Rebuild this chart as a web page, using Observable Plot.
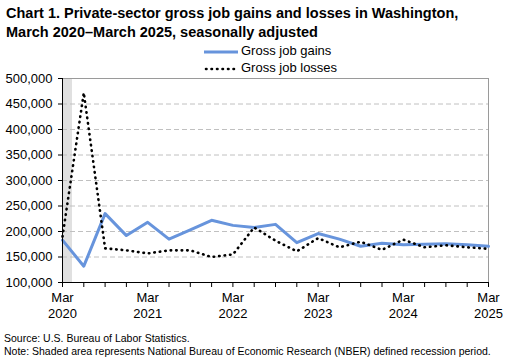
<!DOCTYPE html>
<html><head><meta charset="utf-8">
<script src="https://cdn.jsdelivr.net/npm/d3@7"></script>
<script src="https://cdn.jsdelivr.net/npm/@observablehq/plot@0.6"></script>
<style>
body{margin:0;font-family:"Liberation Sans",Arial,sans-serif;background:#fff;}
#wrap{position:relative;width:512px;height:364px;overflow:hidden;}
#title{position:absolute;left:6px;top:4px;font-weight:bold;font-size:14.5px;line-height:19px;color:#000;}
.leg{position:absolute;font-size:13px;color:#000;}
.foot{position:absolute;left:4px;font-size:10.5px;color:#000;white-space:nowrap;}
#chart{position:absolute;left:0;top:0;}
</style></head>
<body>
<div id="wrap">
<div id="chart"></div>
<div id="title">Chart 1. Private-sector gross job gains and losses in Washington,<br>March 2020–March 2025, seasonally adjusted</div>
<div class="leg" style="left:204px;top:43px;"><svg width="36" height="10" style="vertical-align:middle"><line x1="0" x2="34" y1="5" y2="5" stroke="#6794dc" stroke-width="3"/></svg><span style="margin-left:1px">Gross job gains</span></div>
<div class="leg" style="left:204px;top:60px;"><svg width="36" height="10" style="vertical-align:middle"><line x1="2" x2="34" y1="5" y2="5" stroke="#000" stroke-width="2.6" stroke-linecap="round" stroke-dasharray="0.5,5"/></svg><span style="margin-left:1px">Gross job losses</span></div>
<div class="foot" style="top:332px;">Source: U.S. Bureau of Labor Statistics.</div>
<div class="foot" style="top:345px;">Note: Shaded area represents National Bureau of Economic Research (NBER) defined recession period.</div>
</div>
<script>
const quarters = ["Mar 2020","Jun 2020","Sep 2020","Dec 2020","Mar 2021","Jun 2021","Sep 2021","Dec 2021","Mar 2022","Jun 2022","Sep 2022","Dec 2022","Mar 2023","Jun 2023","Sep 2023","Dec 2023","Mar 2024","Jun 2024","Sep 2024","Dec 2024","Mar 2025"];
const gains = [183000,132000,235000,192000,218000,185000,203000,222000,212000,208000,214000,178000,196000,185000,171000,177000,174000,175000,176000,174000,171000];
const losses = [190000,472000,167000,163000,157000,163000,163000,150000,155000,208000,182000,161000,187000,169000,180000,164000,184000,169000,173000,169000,166000];
const yTicks = [100000,150000,200000,250000,300000,350000,400000,450000,500000];
const recession = [{start: 0, end: 0.47}];

const idx = quarters.map((q,i)=>i);
const gainsData = quarters.map((q,i)=>({i, v: gains[i]}));
const lossesData = quarters.map((q,i)=>({i, v: losses[i]}));
const labelTicks = idx.filter(i => quarters[i].startsWith("Mar"));

const chart = Plot.plot({
  width: 512, height: 364,
  marginLeft: 62, marginRight: 24, marginTop: 78, marginBottom: 82,
  style: {fontFamily: '"Liberation Sans", Arial, sans-serif', fontSize: "13px", background: "transparent"},
  x: {type: "linear", domain: [0, quarters.length - 1]},
  y: {domain: [100000, 500000]},
  marks: [
    Plot.rectX(recession, {x1: "start", x2: "end", y1: 100000, y2: 500000, fill: "#e0e0e0"}),
    Plot.ruleY(yTicks.slice(1, -1), {stroke: "#c0c0c0", strokeDasharray: "5,3", strokeWidth: 1}),
    Plot.ruleY([yTicks[yTicks.length-1]], {stroke: "#9a9a9a"}),
    Plot.ruleX([quarters.length - 1], {stroke: "#9a9a9a"}),
    Plot.line(gainsData, {x: "i", y: "v", stroke: "#6794dc", strokeWidth: 3}),
    Plot.line(lossesData, {x: "i", y: "v", stroke: "#000", strokeWidth: 2.6, strokeLinecap: "round", strokeDasharray: "0.5,5"}),
    Plot.ruleX([0], {stroke: "#000"}),
    Plot.ruleY([yTicks[0]], {stroke: "#000"}),
    Plot.axisY({ticks: yTicks, tickSize: 4, tickPadding: 6, tickFormat: d3.format(","), label: null, fontSize: 13, color: "#000"}),
    Plot.axisX({ticks: idx, tickSize: 5, tickFormat: () => "", label: null}),
    Plot.axisX({ticks: labelTicks, tickSize: 0, tickPadding: 9, lineHeight: 1.18, tickFormat: i => quarters[i].replace(" ", "\n"), label: null, fontSize: 13})
  ]
});
document.getElementById("chart").appendChild(chart);
</script>
</body></html>
